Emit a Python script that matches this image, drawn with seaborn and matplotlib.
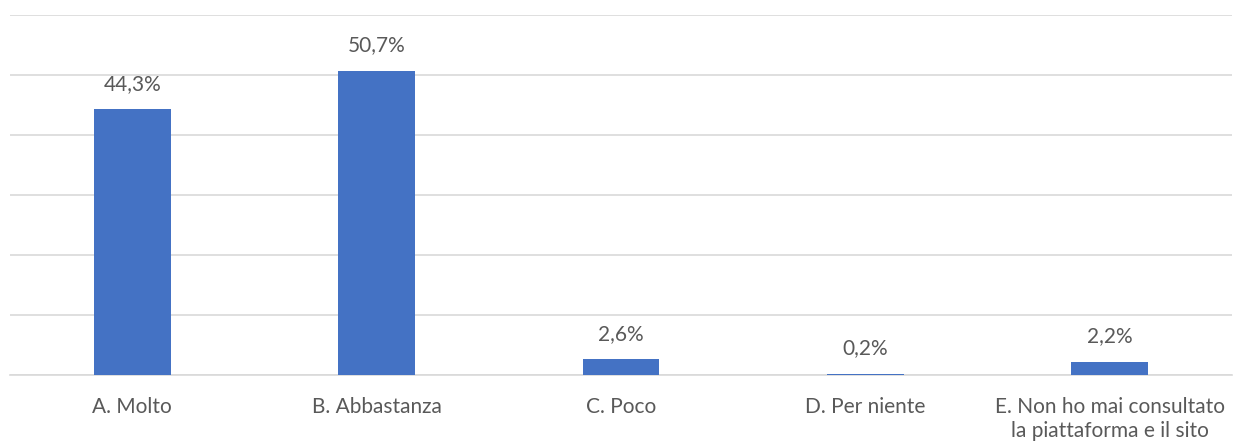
import matplotlib
matplotlib.use("Agg")
import matplotlib.pyplot as plt
import seaborn as sns
import pandas as pd

# ============================================================
# DATA
# ============================================================
categories = [
    "A. Molto",
    "B. Abbastanza",
    "C. Poco",
    "D. Per niente",
    "E. Non ho mai consultato\nla piattaforma e il sito",
]
values = [44.3, 50.7, 2.6, 0.2, 2.2]
value_labels = ["44,3%", "50,7%", "2,6%", "0,2%", "2,2%"]

df = pd.DataFrame({"categoria": categories, "valore": values})

# ============================================================
# STYLE
# ============================================================
sns.set_style("white")
plt.rcParams["font.family"] = ["Lato", "DejaVu Sans"]
text_color = "#595959"

fig = plt.figure(figsize=(12.37, 4.45), dpi=100)
ax = fig.add_axes([10 / 1237, 70 / 445, 1222 / 1237, 360 / 445])

sns.barplot(data=df, x="categoria", y="valore", color="#4472C4",
            width=0.315, saturation=1, linewidth=0, ax=ax, zorder=3)

ax.set_ylim(0, 60)
ax.set_yticks(range(0, 61, 10))
ax.yaxis.grid(True, color="#D9D9D9", linewidth=1.2, zorder=0)
ax.set_axisbelow(True)
ax.tick_params(axis="y", left=False, labelleft=False)
ax.tick_params(axis="x", bottom=False, labelsize=15, colors=text_color, pad=12)
for lbl in ax.get_xticklabels():
    lbl.set_linespacing(1.25)
for s in ["top", "right", "left"]:
    ax.spines[s].set_visible(False)
ax.spines["bottom"].set_color("#D9D9D9")
ax.spines["bottom"].set_linewidth(1.2)
ax.set_xlabel("")
ax.set_ylabel("")

for i, (v, lab) in enumerate(zip(values, value_labels)):
    ax.text(i, v + 2.6, lab, ha="center", va="bottom", fontsize=15, color=text_color)

fig.savefig("out.png", dpi=100)
